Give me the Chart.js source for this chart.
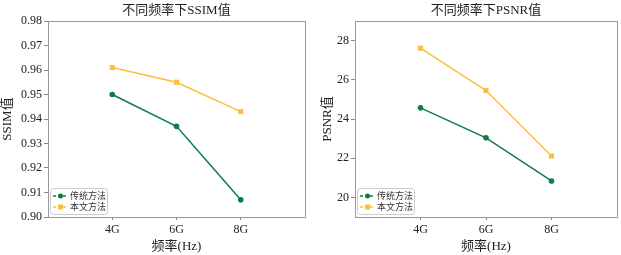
<!DOCTYPE html>
<html>
<head>
<meta charset="utf-8">
<script src="https://cdn.jsdelivr.net/npm/chart.js@4"></script>
<style>
  html, body { margin: 0; padding: 0; background: #fff; }
  .wrap { position: relative; width: 621px; height: 255px; overflow: hidden; }
  .box { position: absolute; top: 0; height: 255px; }
  #left { left: 0; width: 310px; }
  #right { left: 310px; width: 311px; }
</style>
</head>
<body>
<div class="wrap">
  <div class="box" id="left"><canvas id="ssimChart"></canvas></div>
  <div class="box" id="right"><canvas id="psnrChart"></canvas></div>
</div>
<script>
// two side-by-side line charts: SSIM and PSNR per frequency

const freqs = [4, 6, 8];
const freqLabels = ['4G', '6G', '8G'];
const seriesNames = ['传统方法', '本文方法'];

const ssimTraditional = [0.950, 0.937, 0.907];
const ssimOurs = [0.961, 0.955, 0.943];
const ssimTicks = [0.90, 0.91, 0.92, 0.93, 0.94, 0.95, 0.96, 0.97, 0.98];

const psnrTraditional = [24.57, 23.04, 20.84];
const psnrOurs = [27.61, 25.45, 22.11];
const psnrTicks = [20, 22, 24, 26, 28];

const GREEN = '#0b7d45';
const YELLOW = '#fcbf3a';
const SERIF = '"Liberation Serif", "Noto Sans CJK SC", serif';

function toPoints(values) {
    return values.map(function (v, i) { return { x: freqs[i], y: v }; });
}

// gray frame around the plot + legend box in the lower-left corner
const framePlugin = {
    id: 'frameLegend',
    afterDatasetsDraw: function (chart) {
        const a = chart.chartArea;
        const ctx = chart.ctx;
        ctx.save();
        ctx.strokeStyle = '#999';
        ctx.lineWidth = 1;
        ctx.strokeRect(Math.round(a.left) + 0.5, Math.round(a.top) + 0.5,
            Math.round(a.right - a.left), Math.round(a.bottom - a.top));

        // legend
        const lx = a.left + 2, ly = a.bottom - 29, lw = 57, lh = 26;
        ctx.fillStyle = 'rgba(255,255,255,0.85)';
        ctx.strokeStyle = '#ccc';
        ctx.beginPath();
        ctx.roundRect(lx + 0.5, ly + 0.5, lw, lh, 3);
        ctx.fill();
        ctx.stroke();
        chart.data.datasets.forEach(function (ds, i) {
            const cy = ly + 8 + i * 11;
            ctx.strokeStyle = ds.borderColor;
            ctx.lineWidth = 1.5;
            ctx.setLineDash([3, 2]);
            ctx.beginPath();
            ctx.moveTo(lx + 3, cy);
            ctx.lineTo(lx + 18, cy);
            ctx.stroke();
            ctx.setLineDash([]);
            ctx.fillStyle = ds.borderColor;
            if (ds.pointStyle === 'rect') {
                ctx.fillRect(lx + 8, cy - 2.5, 5, 5);
            } else {
                ctx.beginPath();
                ctx.arc(lx + 10.5, cy, 2.5, 0, Math.PI * 2);
                ctx.fill();
            }
            ctx.fillStyle = '#333';
            ctx.font = '9px ' + SERIF;
            ctx.textBaseline = 'middle';
            ctx.textAlign = 'left';
            ctx.fillText(ds.label, lx + 20, cy + 0.5);
        });
        ctx.restore();
    }
};

function makeChart(id, opts) {
    return new Chart(document.getElementById(id), {
        type: 'line',
        data: {
            datasets: [
                {
                    label: seriesNames[0],
                    data: toPoints(opts.trad),
                    borderColor: GREEN,
                    backgroundColor: GREEN,
                    borderWidth: 1.5,
                    pointStyle: 'circle',
                    pointRadius: 2.8,
                    pointBorderWidth: 0
                },
                {
                    label: seriesNames[1],
                    data: toPoints(opts.ours),
                    borderColor: YELLOW,
                    backgroundColor: YELLOW,
                    borderWidth: 1.5,
                    pointStyle: 'rect',
                    pointRadius: 3.6,
                    pointBorderWidth: 0
                }
            ]
        },
        options: {
            responsive: true,
            maintainAspectRatio: false,
            animation: false,
            layout: { padding: { left: 0, right: opts.padRight, top: 0, bottom: 0 } },
            plugins: {
                legend: { display: false },
                tooltip: { enabled: false },
                title: {
                    display: true,
                    text: opts.title,
                    fullSize: false,
                    color: '#222',
                    font: { family: SERIF, size: 13, weight: 'normal', lineHeight: 1.2 },
                    padding: { top: 3, bottom: 2.4 }
                }
            },
            scales: {
                x: {
                    type: 'linear',
                    min: 2, max: 10,
                    afterFit: function (s) { s.height = 38; },
                    afterBuildTicks: function (s) {
                        s.ticks = freqs.map(function (v) { return { value: v }; });
                    },
                    grid: { display: true, drawOnChartArea: false, drawTicks: true,
                            tickLength: 3, color: '#888' },
                    border: { display: false },
                    ticks: {
                        padding: 3,
                        color: '#222',
                        font: { family: SERIF, size: 12 },
                        callback: function (v) {
                            const i = freqs.indexOf(v);
                            return i >= 0 ? freqLabels[i] : '';
                        }
                    },
                    title: {
                        display: true,
                        text: '频率(Hz)',
                        color: '#222',
                        font: { family: SERIF, size: 13, lineHeight: 1.2 },
                        padding: { top: 0, bottom: 1 }
                    }
                },
                y: {
                    min: opts.yMin, max: opts.yMax,
                    afterFit: function (s) { s.width = opts.yWidth; },
                    afterBuildTicks: function (s) {
                        s.ticks = opts.ticks.map(function (v) { return { value: v }; });
                    },
                    grid: { display: true, drawOnChartArea: false, drawTicks: true,
                            tickLength: 4, color: '#888' },
                    border: { display: false },
                    ticks: {
                        padding: 2,
                        color: '#222',
                        font: { family: SERIF, size: 12 },
                        callback: opts.fmt
                    },
                    title: {
                        display: true,
                        text: opts.yTitle,
                        color: '#222',
                        font: { family: SERIF, size: 13, lineHeight: 1.2 },
                        padding: { top: opts.yTitlePad, bottom: 0 }
                    }
                }
            }
        },
        plugins: [framePlugin]
    });
}

makeChart('ssimChart', {
    title: '不同频率下SSIM值',
    yTitle: 'SSIM值',
    trad: ssimTraditional,
    ours: ssimOurs,
    ticks: ssimTicks,
    yMin: 0.90, yMax: 0.98,
    yWidth: 48,
    yTitlePad: 0,
    padRight: 5,
    fmt: function (v) { return v.toFixed(2); }
});

makeChart('psnrChart', {
    title: '不同频率下PSNR值',
    yTitle: 'PSNR值',
    trad: psnrTraditional,
    ours: psnrOurs,
    ticks: psnrTicks,
    yMin: 19, yMax: 29,
    yWidth: 45,
    yTitlePad: 10,
    padRight: 4,
    fmt: function (v) { return String(v); }
});
</script>
</body>
</html>
